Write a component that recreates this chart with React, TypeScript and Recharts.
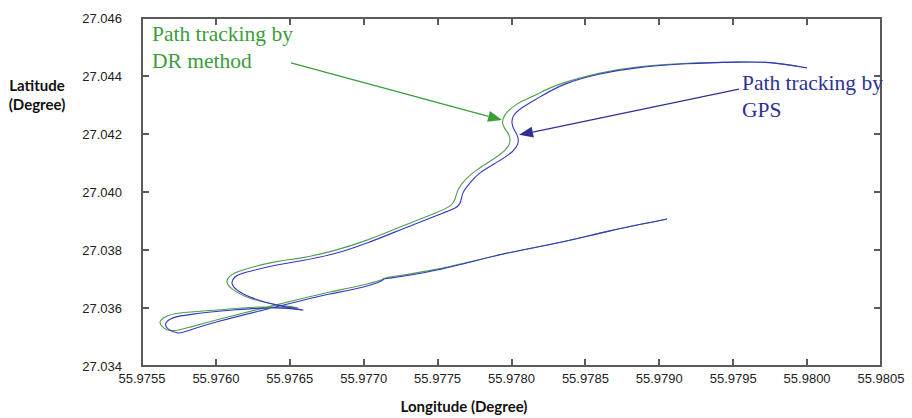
import { ComposedChart, Line, ReferenceLine, XAxis, YAxis } from "recharts";

// [longitude, latitude] pairs, in driving order
const gpsTrack: [number, number][] = [
  [55.979052, 27.03907], [55.978666, 27.03866], [55.978308, 27.03824], [55.977943, 27.03786],
  [55.977496, 27.03731], [55.977178, 27.03703], [55.977131, 27.03697], [55.977022, 27.03676],
  [55.976772, 27.03648], [55.976569, 27.03624], [55.976298, 27.0359], [55.976028, 27.03555],
  [55.975825, 27.03524], [55.975744, 27.03514], [55.975676, 27.03528], [55.975662, 27.03548],
  [55.97571, 27.03566], [55.975845, 27.03579], [55.976116, 27.03593], [55.976413, 27.036],
  [55.976589, 27.03593], [55.976413, 27.0361], [55.976231, 27.03638], [55.976143, 27.03662],
  [55.976109, 27.03686], [55.976129, 27.03707], [55.97621, 27.03724], [55.976413, 27.03748],
  [55.976569, 27.03762], [55.976792, 27.03786], [55.977022, 27.03824], [55.977246, 27.03869],
  [55.977469, 27.03914], [55.977604, 27.03941], [55.977652, 27.03962], [55.977672, 27.03997],
  [55.977719, 27.04031], [55.977787, 27.04066], [55.977902, 27.04103], [55.978003, 27.04138],
  [55.978044, 27.04169], [55.978037, 27.04197], [55.97801, 27.04224], [55.97801, 27.04259],
  [55.978078, 27.04293], [55.978193, 27.04328], [55.978362, 27.04372], [55.978599, 27.04407],
  [55.978849, 27.04428], [55.979187, 27.04442], [55.979526, 27.04448], [55.979749, 27.04446],
  [55.979999, 27.04428],
];

const drTrack: [number, number][] = [
  [55.979052, 27.03907], [55.978666, 27.03866], [55.978308, 27.03824], [55.977943, 27.03786],
  [55.977496, 27.03734], [55.977178, 27.03707], [55.977131, 27.037], [55.977022, 27.03683],
  [55.976772, 27.03655], [55.976569, 27.03631], [55.976298, 27.03597], [55.976028, 27.03562],
  [55.975825, 27.03534], [55.975703, 27.03521], [55.975642, 27.03534], [55.975622, 27.03552],
  [55.975656, 27.03569], [55.975757, 27.03583], [55.976007, 27.03593], [55.976298, 27.03603],
  [55.976555, 27.036], [55.976386, 27.03614], [55.97621, 27.03638], [55.976109, 27.03666],
  [55.976075, 27.0369], [55.976095, 27.0371], [55.976183, 27.03731], [55.9764, 27.03759],
  [55.976569, 27.03772], [55.976792, 27.03797], [55.977022, 27.03834], [55.977246, 27.03879],
  [55.977469, 27.03924], [55.977584, 27.03952], [55.977618, 27.03976], [55.977638, 27.04007],
  [55.977685, 27.04041], [55.977773, 27.04079], [55.977888, 27.04117], [55.97797, 27.04152],
  [55.97799, 27.04179], [55.977976, 27.04203], [55.977943, 27.04231], [55.977956, 27.04266],
  [55.978037, 27.04303], [55.978159, 27.04334], [55.978328, 27.04372], [55.978599, 27.0441],
  [55.978849, 27.04431], [55.979187, 27.04444], [55.979526, 27.04448], [55.979749, 27.04446],
  [55.979932, 27.04434],
];

const lonTicks = [55.9755, 55.976, 55.9765, 55.977, 55.9775, 55.978, 55.9785, 55.979, 55.9795, 55.98, 55.9805];
const latTicks = [27.034, 27.036, 27.038, 27.04, 27.042, 27.044, 27.046];

// annotation arrows: [from, to] in lon/lat
const drArrow: [number, number][] = [[55.976508, 27.04445], [55.977936, 27.04248]];
const gpsArrow: [number, number][] = [[55.979539, 27.04355], [55.978051, 27.04197]];

const GREEN = "#3a9d3a";
const BLUE = "#2e3192";
const AXIS = "#5a5a5a";

const W = 912;
const H = 418;
const PLOT_L = 142;
const PLOT_R = 881;
const PLOT_T = 18;
const PLOT_B = 366;
const TICK = 7;
const RULE = 2;

const lonMin = lonTicks[0];
const lonMax = lonTicks[lonTicks.length - 1];
const latMin = latTicks[0];
const latMax = latTicks[latTicks.length - 1];

const toRows = (track: [number, number][]) => track.map(([lon, lat]) => ({ lon, lat }));

function arrowShape(color: string) {
  return (props: any) => {
    const { x1, y1, x2, y2 } = props;
    const ang = Math.atan2(y2 - y1, x2 - x1);
    const len = 14;
    const half = 5.5;
    const bx = x2 - len * Math.cos(ang);
    const by = y2 - len * Math.sin(ang);
    const px = -Math.sin(ang) * half;
    const py = Math.cos(ang) * half;
    return (
      <g>
        <line x1={x1} y1={y1} x2={bx} y2={by} stroke={color} strokeWidth={1.3} />
        <polygon
          points={`${x2},${y2} ${bx + px},${by + py} ${bx - px},${by - py}`}
          fill={color}
        />
      </g>
    );
  };
}

const tickFont = { fontSize: 13, fill: "#222", fontFamily: "Liberation Sans, Arial, sans-serif" };

// box frame with inward tick marks, laid over the chart's plot area
function Frame() {
  const sx = (PLOT_R - PLOT_L) / (lonMax - lonMin);
  const sy = (PLOT_B - PLOT_T) / (latMax - latMin);
  const mark = (left: number, top: number, w: number, h: number, key: string) => (
    <div
      key={key}
      style={{ position: "absolute", left, top, width: w, height: h, background: AXIS }}
    />
  );
  return (
    <div style={{ position: "absolute", left: 0, top: 0, width: W, height: H, pointerEvents: "none" }}>
      <div
        style={{
          position: "absolute",
          left: PLOT_L - 1,
          top: PLOT_T - 1,
          width: PLOT_R - PLOT_L + 2,
          height: PLOT_B - PLOT_T + 2,
          border: `${RULE}px solid ${AXIS}`,
          boxSizing: "border-box",
        }}
      />
      {lonTicks.map((t) => {
        const x = Math.round(PLOT_L + (t - lonMin) * sx) - 1;
        return [
          mark(x, PLOT_B - TICK, RULE, TICK, `b${t}`),
          mark(x, PLOT_T, RULE, TICK, `t${t}`),
        ];
      })}
      {latTicks.map((t) => {
        const y = Math.round(PLOT_B - (t - latMin) * sy) - 1;
        return [
          mark(PLOT_L, y, TICK, RULE, `l${t}`),
          mark(PLOT_R - TICK, y, TICK, RULE, `r${t}`),
        ];
      })}
    </div>
  );
}

export default function App() {
  return (
    <div
      style={{
        position: "absolute",
        left: 0,
        top: 0,
        width: W,
        height: H,
        background: "#fff",
        fontFamily: "Liberation Sans, Arial, sans-serif",
      }}
    >
      <ComposedChart
        width={W}
        height={H}
        margin={{ top: PLOT_T, right: W - PLOT_R, left: 0, bottom: 0 }}
      >
        <XAxis
          xAxisId="b"
          type="number"
          dataKey="lon"
          domain={[lonMin, lonMax]}
          ticks={lonTicks}
          tickFormatter={(v) => Number(v).toFixed(4)}
          tick={tickFont}
          stroke={AXIS}
          tickSize={0}
          tickMargin={8}
          height={H - PLOT_B}
          interval={0}
          tickLine={false}
        />
        <YAxis
          yAxisId="l"
          type="number"
          dataKey="lat"
          domain={[latMin, latMax]}
          ticks={latTicks}
          tickFormatter={(v) => Number(v).toFixed(3)}
          tick={tickFont}
          stroke={AXIS}
          tickSize={0}
          tickMargin={20}
          width={PLOT_L}
          interval={0}
          tickLine={false}
        />
        <Line
          xAxisId="b"
          yAxisId="l"
          data={toRows(drTrack)}
          dataKey="lat"
          type="natural"
          stroke="#4f9f4f"
          strokeWidth={1.1}
          dot={false}
          isAnimationActive={false}
        />
        <Line
          xAxisId="b"
          yAxisId="l"
          data={toRows(gpsTrack)}
          dataKey="lat"
          type="natural"
          stroke="#3535c8"
          strokeWidth={1.1}
          dot={false}
          isAnimationActive={false}
        />
        <ReferenceLine
          xAxisId="b"
          yAxisId="l"
          segment={drArrow.map(([x, y]) => ({ x, y }))}
          shape={arrowShape(GREEN)}
        />
        <ReferenceLine
          xAxisId="b"
          yAxisId="l"
          segment={gpsArrow.map(([x, y]) => ({ x, y }))}
          shape={arrowShape(BLUE)}
        />
      </ComposedChart>

      <Frame />

      <div
        style={{
          position: "absolute",
          left: 152,
          top: 21,
          color: GREEN,
          fontFamily: "Liberation Serif, Times New Roman, serif",
          fontSize: 21.5,
          lineHeight: "27px",
          whiteSpace: "nowrap",
        }}
      >
        Path tracking by
        <br />
        DR method
      </div>
      <div
        style={{
          position: "absolute",
          left: 742,
          top: 70,
          color: BLUE,
          fontFamily: "Liberation Serif, Times New Roman, serif",
          fontSize: 21.5,
          lineHeight: "27px",
          whiteSpace: "nowrap",
        }}
      >
        Path tracking by
        <br />
        GPS
      </div>

      <div
        style={{
          position: "absolute",
          left: 0,
          top: 76,
          width: 74,
          textAlign: "center",
          fontFamily: "Lato, sans-serif",
          fontWeight: 700,
          fontSize: 15,
          lineHeight: "19px",
          color: "#111",
        }}
      >
        Latitude
        <br />
        (Degree)
      </div>
      <div
        style={{
          position: "absolute",
          left: 364,
          top: 397,
          width: 200,
          textAlign: "center",
          fontFamily: "Lato, sans-serif",
          fontWeight: 700,
          fontSize: 15,
          lineHeight: "19px",
          color: "#111",
        }}
      >
        Longitude (Degree)
      </div>
    </div>
  );
}
